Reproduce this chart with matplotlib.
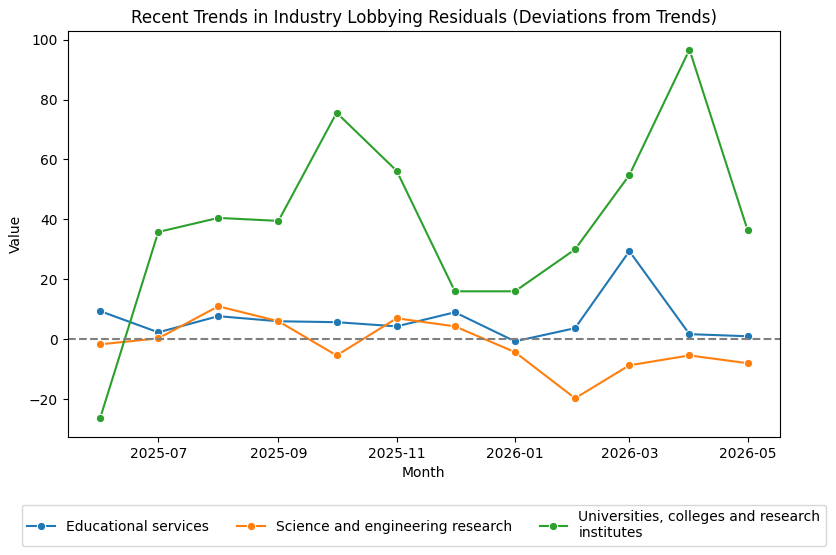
import numpy as np
import pandas as pd
import matplotlib
matplotlib.use("Agg")
import matplotlib.pyplot as plt
import matplotlib.dates as mdates
import seaborn as sns

months = pd.date_range("2025-06-01", periods=12, freq="MS")
educational = [9.4, 2.3, 7.7, 6.0, 5.7, 4.3, 9.0, -0.7, 3.7, 29.4, 1.7, 1.0]
science = [-1.7, 0.3, 11.0, 6.0, -5.4, 7.0, 4.3, -4.3, -19.7, -8.7, -5.4, -8.0]
universities = [-26.4, 35.8, 40.5, 39.5, 75.6, 56.2, 16.0, 16.0, 30.0, 54.8, 96.7, 36.4]
labels = ["Educational services", "Science and engineering research",
          "Universities, colleges and research\ninstitutes"]

df = pd.DataFrame({
    "Month": np.tile(months, 3),
    "Value": educational + science + universities,
    "Industry": np.repeat(labels, 12),
})

fig = plt.figure(figsize=(8.36, 5.55), dpi=100)
ax = fig.add_axes([0.081, 0.213, 0.852, 0.731])
sns.lineplot(data=df, x="Month", y="Value", hue="Industry", marker="o", ax=ax)
ax.axhline(0, color="gray", linestyle="--")
ax.set_title("Recent Trends in Industry Lobbying Residuals (Deviations from Trends)")
ax.xaxis.set_major_locator(mdates.MonthLocator(bymonth=[1, 3, 5, 7, 9, 11]))
ax.xaxis.set_major_formatter(mdates.DateFormatter("%Y-%m"))
ax.legend(loc="upper center", bbox_to_anchor=(0.5, -0.15), ncol=3)
fig.savefig("out.png", dpi=100)
